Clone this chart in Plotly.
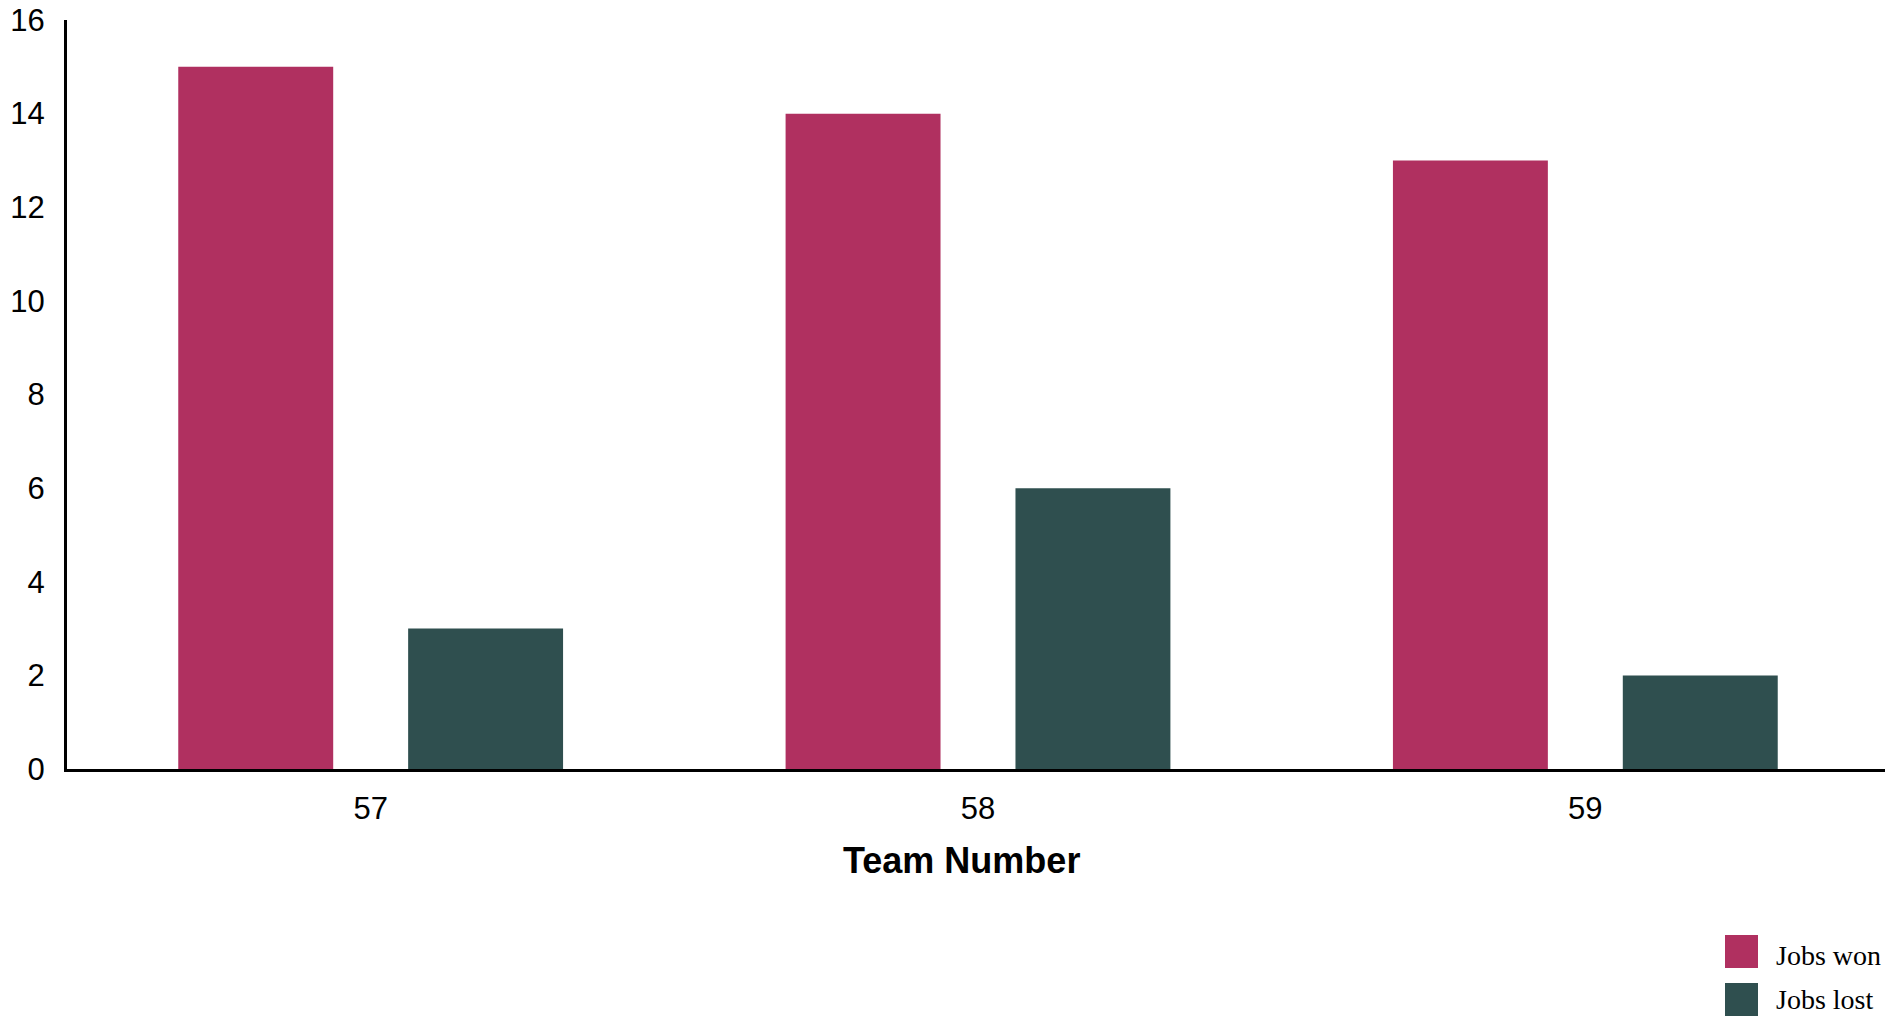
import plotly.graph_objects as go

teams = ["57", "58", "59"]
jobs_won = [15, 14, 13]
jobs_lost = [3, 6, 2]
series_names = ["Jobs won", "Jobs lost"]
colors = ["#B03060", "#2F4F4F"]

fig = go.Figure()
fig.add_trace(go.Bar(x=teams, y=jobs_won, name=series_names[0], marker_color=colors[0], marker_line_width=0))
fig.add_trace(go.Bar(x=teams, y=jobs_lost, name=series_names[1], marker_color=colors[1], marker_line_width=0))

# page body has an 8px default margin; compensate so plot area spans x 67..1889, y 20..769
fig.update_layout(
    width=1885, height=1010,
    margin=dict(l=59, r=4, t=12, b=249, autoexpand=False),
    paper_bgcolor="white", plot_bgcolor="white",
    barmode="group", bargap=0.243, bargroupgap=0.326,
    showlegend=False,
    font=dict(family="Liberation Sans, Arial", color="black", size=31),
)
fig.update_xaxes(
    type="category", showgrid=False, zeroline=False, automargin=False,
    showline=True, linecolor="black", linewidth=3,
    ticks="", ticklabelstandoff=10,
    tickfont=dict(family="Liberation Sans, Arial", size=31, color="black"),
)
fig.update_yaxes(
    range=[0, 16], tickvals=[0, 2, 4, 6, 8, 10, 12, 14, 16],
    showgrid=False, zeroline=False, automargin=False,
    showline=True, linecolor="black", linewidth=3,
    ticks="", ticklabelstandoff=13, ticklabeloverflow="allow",
    tickfont=dict(family="Liberation Sans, Arial", size=31, color="black"),
)

# axis title
fig.add_annotation(
    text="<b>Team Number</b>", xref="paper", yref="paper",
    x=(961 - 67) / 1822, y=-(861 - 769) / 749, xanchor="center", yanchor="middle",
    showarrow=False, font=dict(family="Liberation Sans, Arial", size=36, color="black"),
)

# legend (custom to match large swatches)
legend_rows = [(951.5, 955), (999.5, 1000)]
for i, (sy, ty) in enumerate(legend_rows):
    y0 = (769 - (sy - 16.5)) / 749
    y1 = (769 - (sy + 16.5)) / 749
    fig.add_shape(type="rect", xref="paper", yref="paper",
                  x0=(1725 - 67) / 1822, x1=(1758 - 67) / 1822,
                  y0=y1, y1=y0, fillcolor=colors[i], line_width=0)
    fig.add_annotation(text=series_names[i], xref="paper", yref="paper",
                       x=(1774 - 67) / 1822, y=(769 - ty) / 749,
                       xanchor="left", yanchor="middle", showarrow=False,
                       font=dict(family="Liberation Serif, Times New Roman", size=28, color="black"))

fig.write_html("out.html")
